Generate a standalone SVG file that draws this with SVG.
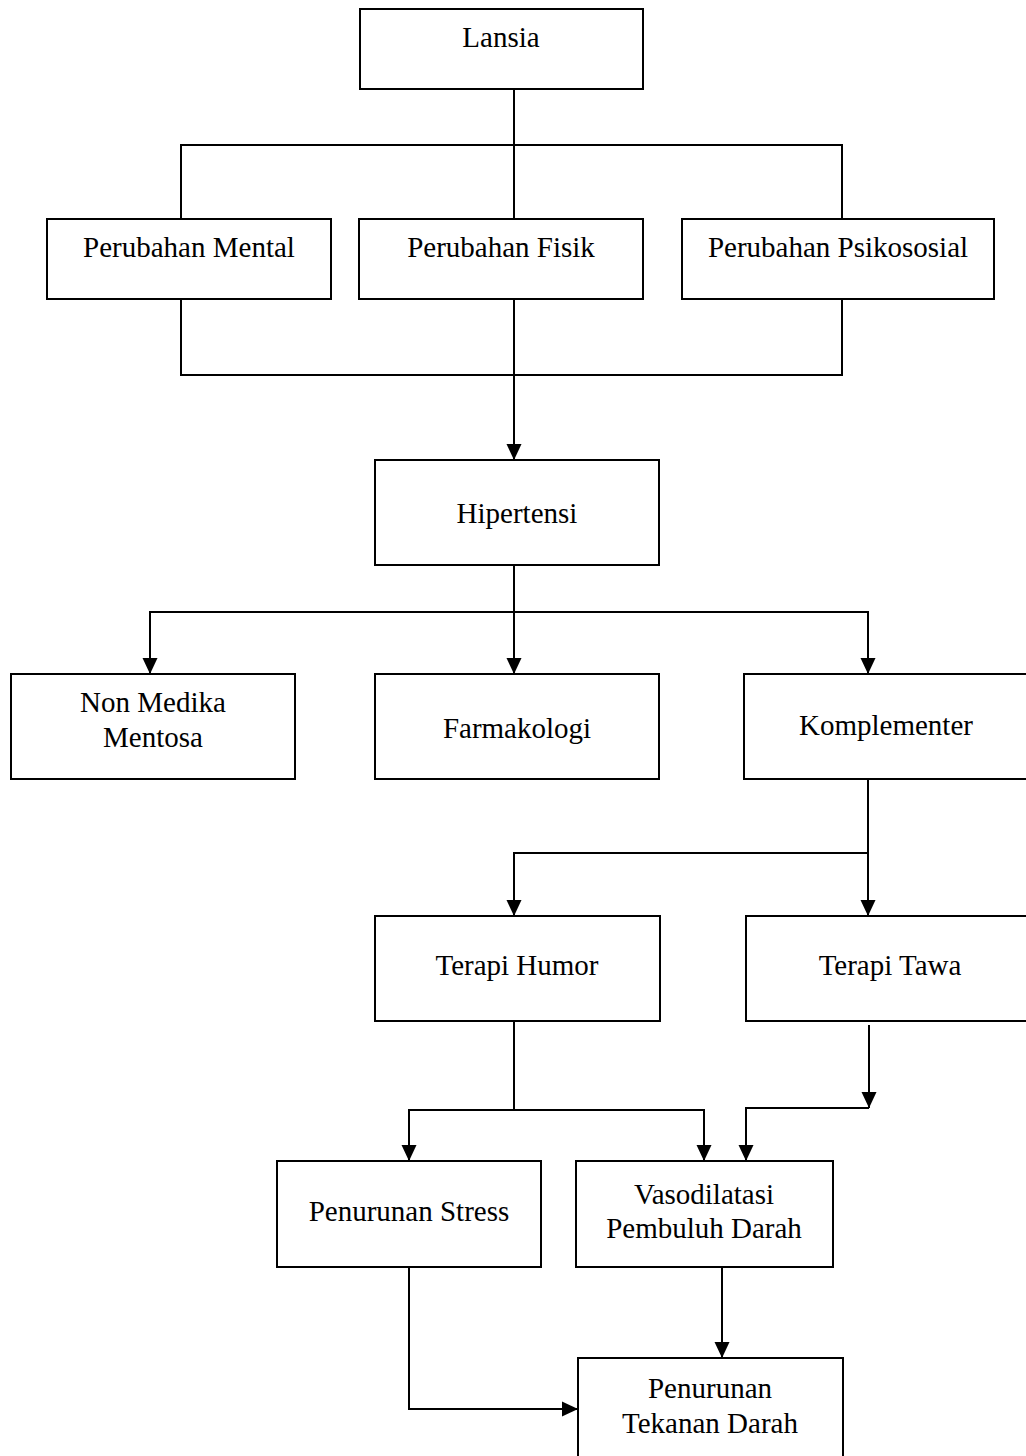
<svg xmlns="http://www.w3.org/2000/svg" width="1026" height="1456" viewBox="0 0 1026 1456">
<style>
.box{fill:#fff;stroke:#000;stroke-width:2}
.lbl{font-family:"Liberation Serif","Times New Roman",serif;font-size:29px;fill:#000;text-anchor:middle}
.ln{fill:none;stroke:#000;stroke-width:2}
.ar{fill:none;stroke:#000;stroke-width:2;marker-end:url(#arr)}
</style>
<defs>
<marker id="arr" markerUnits="userSpaceOnUse" markerWidth="18" markerHeight="18" viewBox="0 0 18 18" refX="16" refY="9" orient="auto">
<path d="M0,1.5 L16,9 L0,16.5 Z" fill="#000"/>
</marker>
</defs>
<rect x="0" y="0" width="1026" height="1456" fill="#fff"/>
<g id="connectors">
<path class="ln" d="M514,89 V219"/>
<path class="ln" d="M181,219 V145 H842 V219"/>
<path class="ln" d="M181,299 V375 H842 V299"/>
<path class="ar" d="M514,299 V460"/>
<path class="ar" d="M514,565 V674"/>
<path class="ar" d="M514,612 H150 V674"/>
<path class="ar" d="M514,612 H868 V674"/>
<path class="ar" d="M868,779 V916"/>
<path class="ar" d="M868,853 H514 V916"/>
<path class="ln" d="M514,1021 V1110"/>
<path class="ar" d="M514,1110 H409 V1161"/>
<path class="ar" d="M514,1110 H704 V1161"/>
<path class="ar" d="M869,1025 V1108"/>
<path class="ar" d="M869,1108 H746 V1161"/>
<path class="ar" d="M722,1267 V1358"/>
<path class="ar" d="M409,1267 V1409 H578"/>
</g>
<g id="lansia"><rect class="box" x="360" y="9" width="283" height="80"/><text class="lbl" x="501" y="47">Lansia</text></g>
<g id="perubahan-mental"><rect class="box" x="47" y="219" width="284" height="80"/><text class="lbl" x="189" y="257">Perubahan Mental</text></g>
<g id="perubahan-fisik"><rect class="box" x="359" y="219" width="284" height="80"/><text class="lbl" x="501" y="257">Perubahan Fisik</text></g>
<g id="perubahan-psikososial"><rect class="box" x="682" y="219" width="312" height="80"/><text class="lbl" x="838" y="257">Perubahan Psikososial</text></g>
<g id="hipertensi"><rect class="box" x="375" y="460" width="284" height="105"/><text class="lbl" x="517" y="523">Hipertensi</text></g>
<g id="non-medika"><rect class="box" x="11" y="674" width="284" height="105"/><text class="lbl" x="153" y="712">Non Medika</text><text class="lbl" x="153" y="747">Mentosa</text></g>
<g id="farmakologi"><rect class="box" x="375" y="674" width="284" height="105"/><text class="lbl" x="517" y="738">Farmakologi</text></g>
<g id="komplementer"><rect class="box" x="744" y="674" width="292" height="105"/><text class="lbl" x="886" y="735">Komplementer</text></g>
<g id="terapi-humor"><rect class="box" x="375" y="916" width="285" height="105"/><text class="lbl" x="517" y="975">Terapi Humor</text></g>
<g id="terapi-tawa"><rect class="box" x="746" y="916" width="292" height="105"/><text class="lbl" x="890" y="975">Terapi Tawa</text></g>
<g id="penurunan-stress"><rect class="box" x="277" y="1161" width="264" height="106"/><text class="lbl" x="409" y="1221">Penurunan Stress</text></g>
<g id="vasodilatasi"><rect class="box" x="576" y="1161" width="257" height="106"/><text class="lbl" x="704" y="1204">Vasodilatasi</text><text class="lbl" x="704" y="1238">Pembuluh Darah</text></g>
<g id="penurunan-tekanan"><rect class="box" x="578" y="1358" width="265" height="110"/><text class="lbl" x="710" y="1398">Penurunan</text><text class="lbl" x="710" y="1433">Tekanan Darah</text></g>
</svg>
